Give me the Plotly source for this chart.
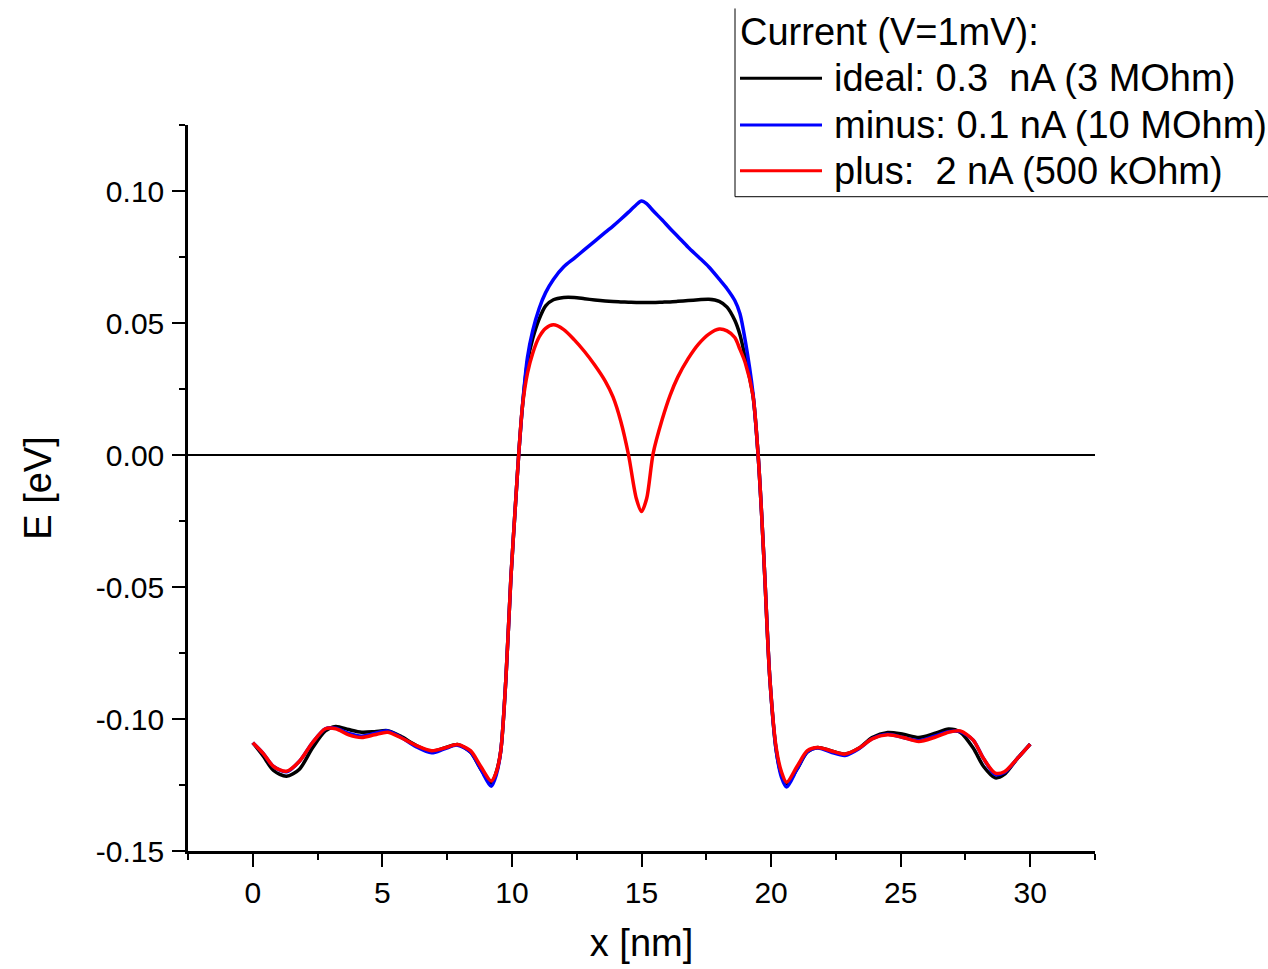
import plotly.graph_objects as go

# ---- data ----
x_nm = [0, 0.4, 0.8, 1.3, 1.8, 2.3, 2.8, 3.2, 3.7, 4.2, 4.7, 5.2, 5.7, 6.3, 6.9, 7.4, 7.9, 8.4, 8.8, 9.2,
        9.4, 9.57, 9.77, 9.96, 10.16, 10.26, 10.41, 10.6, 10.8, 11.05, 11.3, 11.6, 12.0, 12.4, 12.8, 13.2,
        13.6, 13.9, 14.2, 14.5, 14.8, 15.0, 15.2, 15.45, 15.8, 16.1, 16.4, 16.8, 17.2, 17.6, 18.0, 18.3,
        18.6, 18.8, 19.0, 19.3, 19.5, 19.63, 19.76, 19.95, 20.2, 20.4, 20.6, 21.0, 21.4, 21.8, 22.3, 22.85,
        23.4, 23.9, 24.5, 25.1, 25.7, 26.3, 26.85, 27.3, 27.8, 28.2, 28.65, 29.0, 29.5, 30.0]

E_ideal = [-0.109, -0.114, -0.1195, -0.1217, -0.119, -0.111, -0.1045, -0.1028, -0.104, -0.105, -0.1048, -0.1044,
           -0.1065, -0.110, -0.1123, -0.111, -0.1097, -0.1125, -0.119, -0.1243,
           -0.120, -0.112, -0.0843, -0.0466, -0.0152, 0.0, 0.0188, 0.0352, 0.044, 0.0515, 0.0565, 0.0588, 0.0597,
           0.0597, 0.0592, 0.0587, 0.0583, 0.0581, 0.058, 0.0579, 0.0578, 0.0578, 0.0578, 0.0578, 0.0579, 0.058,
           0.0582, 0.0585, 0.0588, 0.059, 0.0582, 0.0560, 0.0510, 0.0455, 0.037, 0.0226, 0.0, -0.0214, -0.0466,
           -0.0843, -0.112, -0.121, -0.1245, -0.119, -0.1125, -0.1108, -0.112, -0.1133, -0.111, -0.107, -0.1051,
           -0.1058, -0.107, -0.1055, -0.1038, -0.105, -0.111, -0.118, -0.1223, -0.121, -0.115, -0.1095]

E_minus = [-0.109, -0.113, -0.118, -0.1200, -0.116, -0.109, -0.1037, -0.1035, -0.1055, -0.1065, -0.1055, -0.1045,
           -0.1068, -0.1105, -0.1128, -0.1113, -0.1099, -0.1125, -0.119, -0.1255,
           -0.121, -0.112, -0.0843, -0.0466, -0.0152, 0.0, 0.019, 0.037, 0.047, 0.0555, 0.0615, 0.0665, 0.0713,
           0.0745, 0.0778, 0.081, 0.0843, 0.0867, 0.0893, 0.0920, 0.0948, 0.0962, 0.0952, 0.0925, 0.0890, 0.0858,
           0.0828, 0.0787, 0.0750, 0.0712, 0.0666, 0.0630, 0.0585, 0.0535, 0.0435, 0.0235, 0.0, -0.0214, -0.0466,
           -0.0843, -0.112, -0.122, -0.1258, -0.119, -0.1125, -0.111, -0.1125, -0.1138, -0.1112, -0.1075, -0.1058,
           -0.107, -0.1082, -0.1065, -0.1048, -0.1048, -0.108, -0.115, -0.121, -0.1203, -0.115, -0.1095]

E_plus = [-0.109, -0.113, -0.118, -0.1198, -0.116, -0.109, -0.1037, -0.1037, -0.106, -0.107, -0.106, -0.105,
          -0.107, -0.110, -0.112, -0.111, -0.1097, -0.112, -0.118, -0.1235,
          -0.120, -0.112, -0.0843, -0.0466, -0.0152, 0.0, 0.0188, 0.031, 0.0385, 0.0447, 0.0480, 0.0493, 0.0475,
          0.0437, 0.0392, 0.034, 0.028, 0.022, 0.0128, 0.0, -0.0165, -0.0214, -0.0165, 0.0006, 0.0135, 0.0225,
          0.0295, 0.0365, 0.042, 0.0458, 0.0477, 0.0470, 0.0445, 0.040, 0.0350, 0.0226, 0.0, -0.0214, -0.0466,
          -0.0843, -0.111, -0.120, -0.124, -0.118, -0.112, -0.1108, -0.112, -0.1133, -0.111, -0.1075, -0.106,
          -0.107, -0.1085, -0.107, -0.105, -0.1045, -0.108, -0.115, -0.1205, -0.120, -0.115, -0.1095]

series_names = ["ideal: 0.3\u00a0 nA (3 MOhm)", "minus: 0.1 nA (10 MOhm)", "plus:\u00a0 2 nA (500 kOhm)"]
series_colors = ["#000000", "#0000ff", "#ff0000"]
legend_title = "Current (V=1mV):"

x_tickvals = [0, 5, 10, 15, 20, 25, 30]
x_ticktext = ["0", "5", "10", "15", "20", "25", "30"]
y_tickvals = [-0.15, -0.10, -0.05, 0.0, 0.05, 0.10]
y_ticktext = ["-0.15", "-0.10", "-0.05", "0.00", "0.05", "0.10"]

assert len(x_nm) == len(E_ideal) == len(E_minus) == len(E_plus)

# ---- figure ----
W, H = 1268, 969
L, R, T, B = 188, 173, 125, 115
PW, PH = W - L - R, H - T - B
FONT = "Arial, Liberation Sans, sans-serif"


def px(xp):
    return (xp - L) / PW


def py(yp):
    return (H - B - yp) / PH


fig = go.Figure()
for name, ys, col in zip(series_names, [E_ideal, E_minus, E_plus], series_colors):
    fig.add_trace(go.Scatter(x=x_nm, y=ys, mode="lines", name=name, showlegend=False,
                             line=dict(color=col, width=3.5, shape="spline", smoothing=0.8)))

axis_common = dict(showline=True, linecolor="black", linewidth=2.5, ticks="outside", ticklen=13,
                   tickwidth=2, tickcolor="black", showgrid=False, mirror=False,
                   tickfont=dict(family=FONT, size=30, color="black"))

fig.update_xaxes(range=[-2.5, 32.5], tickvals=x_tickvals, ticktext=x_ticktext,
                 minor=dict(dtick=2.5, tick0=0, ticks="outside", ticklen=6, tickwidth=2, tickcolor="black"),
                 zeroline=False,
                 title=dict(text="x [nm]", font=dict(family=FONT, size=38, color="black"), standoff=22),
                 **axis_common)
fig.update_yaxes(range=[-0.15, 0.125], tickvals=y_tickvals, ticktext=y_ticktext,
                 minor=dict(dtick=0.025, tick0=0, ticks="outside", ticklen=6, tickwidth=2, tickcolor="black"),
                 zeroline=True, zerolinecolor="black", zerolinewidth=2, ticklabelstandoff=2,
                 title=dict(text="E [eV]", font=dict(family=FONT, size=38, color="black"), standoff=33),
                 **axis_common)

# manual legend box (left and bottom borders visible, rest outside the page)
shapes = [
    dict(type="line", xref="paper", yref="paper", x0=px(735), x1=px(735), y0=py(8), y1=py(197),
         line=dict(color="black", width=1)),
    dict(type="line", xref="paper", yref="paper", x0=px(735), x1=px(1275), y0=py(197), y1=py(197),
         line=dict(color="black", width=1)),
]
annotations = [
    dict(xref="paper", yref="paper", x=px(738), y=py(32), xanchor="left", yanchor="middle",
         text=legend_title, showarrow=False, font=dict(family=FONT, size=38, color="black")),
]
row_y = [78, 125, 171]
for name, col, ry in zip(series_names, series_colors, row_y):
    shapes.append(dict(type="line", xref="paper", yref="paper", x0=px(740), x1=px(822), y0=py(ry), y1=py(ry),
                       line=dict(color=col, width=3)))
    annotations.append(dict(xref="paper", yref="paper", x=px(832), y=py(ry), xanchor="left", yanchor="middle",
                            text=name, showarrow=False, font=dict(family=FONT, size=38, color="black")))

fig.update_layout(width=W, height=H, margin=dict(l=L, r=R, t=T, b=B, pad=0),
                  plot_bgcolor="white", paper_bgcolor="white", showlegend=False,
                  shapes=shapes, annotations=annotations,
                  font=dict(family=FONT, color="black"))

fig.write_html("out.html")
